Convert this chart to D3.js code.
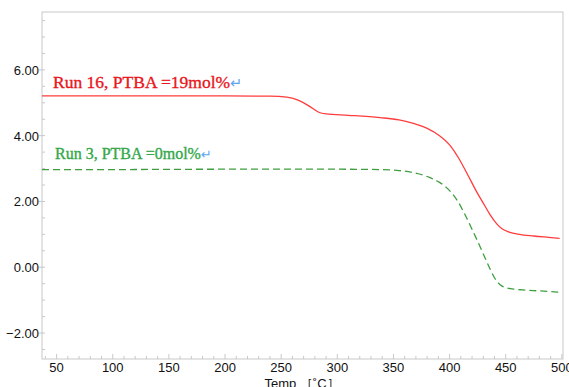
<!DOCTYPE html>
<html>
<head>
<meta charset="utf-8">
<script src="https://cdn.jsdelivr.net/npm/d3@7"></script>
<style>
  body { margin: 0; background: #fff; }
  svg { display: block; }
</style>
</head>
<body>
<div id="chart"></div>
<script>
// data
const run16Temp = [37, 100, 150, 200, 240, 255, 265, 275, 283, 290, 310, 338, 355, 367, 380, 391, 400, 408, 416, 424, 430, 436, 442, 447, 453, 462, 475, 488, 498];
const run16Value = [5.21, 5.21, 5.21, 5.21, 5.20, 5.17, 5.08, 4.90, 4.72, 4.66, 4.62, 4.55, 4.48, 4.38, 4.22, 4.00, 3.72, 3.32, 2.82, 2.30, 1.95, 1.60, 1.32, 1.16, 1.07, 1.00, 0.95, 0.91, 0.88];
const run3Temp = [37, 100, 200, 300, 338, 355, 367, 382, 391, 400, 407, 414, 421, 428, 434, 440, 445, 450, 456, 465, 480, 498];
const run3Value = [2.97, 2.97, 2.98, 2.98, 2.97, 2.94, 2.88, 2.73, 2.58, 2.33, 2.02, 1.58, 1.08, 0.56, 0.10, -0.32, -0.53, -0.62, -0.66, -0.69, -0.72, -0.76];
const xTicks = [50, 100, 150, 200, 250, 300, 350, 400, 450, 500];
const yTicks = [-2, 0, 2, 4, 6];
const seriesLabels = ["Run 16, PTBA =19mol%", "Run 3, PTBA =0mol%"];

const W = 569, H = 387;
const margin = {top: 12, right: 6, bottom: 28, left: 42};
const width = W - margin.left - margin.right,
      height = H - margin.top - margin.bottom;

const svg = d3.select("#chart").append("svg")
    .attr("width", W).attr("height", H);
const g = svg.append("g")
    .attr("transform", "translate(" + margin.left + "," + margin.top + ")");

const x = d3.scaleLinear().domain([37, 501]).range([0, width]);
const y = d3.scaleLinear().domain([-2.79, 7.76]).range([height, 0]);

const axisColor = "#c8c8c8";
const tickFont = "'Liberation Sans', Arial, sans-serif";

// frame
g.append("rect")
    .attr("width", width).attr("height", height)
    .attr("fill", "none").attr("stroke", axisColor);

// minor ticks
g.selectAll(".xminor")
    .data(d3.range(40, 501, 10))
    .enter().append("line")
    .attr("x1", d => x(d)).attr("x2", d => x(d))
    .attr("y1", height).attr("y2", d => height - (d % 50 === 0 ? 5 : 3))
    .attr("stroke", axisColor);
g.selectAll(".yminor")
    .data(d3.range(-2.5, 7.6, 0.5))
    .enter().append("line")
    .attr("x1", d => Math.abs(d % 2) < 1e-6 ? -3 : 0).attr("x2", 3)
    .attr("y1", d => y(d)).attr("y2", d => y(d))
    .attr("stroke", axisColor);

// tick labels
g.selectAll(".xlab")
    .data(xTicks)
    .enter().append("text")
    .attr("x", d => x(d)).attr("y", height + 13)
    .attr("text-anchor", "middle")
    .attr("font-family", tickFont).attr("font-size", 13)
    .attr("fill", "#111")
    .text(d => d);
g.selectAll(".ylab")
    .data(yTicks)
    .enter().append("text")
    .attr("x", -3).attr("y", d => y(d) + 5)
    .attr("text-anchor", "end")
    .attr("font-family", tickFont).attr("font-size", 13)
    .attr("fill", "#111")
    .text(d => (d < 0 ? "\u2212" : "") + Math.abs(d).toFixed(2));

svg.append("text")
    .attr("x", 302).attr("y", 388)
    .attr("text-anchor", "middle")
    .attr("font-family", tickFont).attr("font-size", 13)
    .attr("fill", "#111")
    .text("Temp \uFF3B\u02DAC\uFF3D");

// lines
const line = d3.line()
    .x(d => x(d[0])).y(d => y(d[1]))
    .curve(d3.curveMonotoneX);

g.append("path")
    .datum(d3.zip(run16Temp, run16Value))
    .attr("d", line)
    .attr("fill", "none").attr("stroke", "#ff3c3c").attr("stroke-width", 1.3);
g.append("path")
    .datum(d3.zip(run3Temp, run3Value))
    .attr("d", line)
    .attr("fill", "none").attr("stroke", "#3f9f3f").attr("stroke-width", 1.3)
    .attr("stroke-dasharray", "7,4");

// series labels
const labelFont = "'Liberation Serif', 'Times New Roman', serif";
const lab = [
  {text: seriesLabels[0], color: "#e8161c", x: 53, y: 88, size: 17.5},
  {text: seriesLabels[1], color: "#33a84a", x: 55, y: 159, size: 16}
];
lab.forEach(l => {
  const t = svg.append("text")
      .attr("x", l.x).attr("y", l.y)
      .attr("font-family", labelFont).attr("font-size", l.size)
      .attr("fill", l.color)
      .attr("stroke", l.color).attr("stroke-width", 0.35)
      .text(l.text);
  t.append("tspan")
      .attr("fill", "#5aa6ee").attr("stroke", "none")
      .attr("font-size", l.size - 3)
      .attr("font-family", "'DejaVu Sans', sans-serif")
      .text("\u21B5");
});
</script>
</body>
</html>
